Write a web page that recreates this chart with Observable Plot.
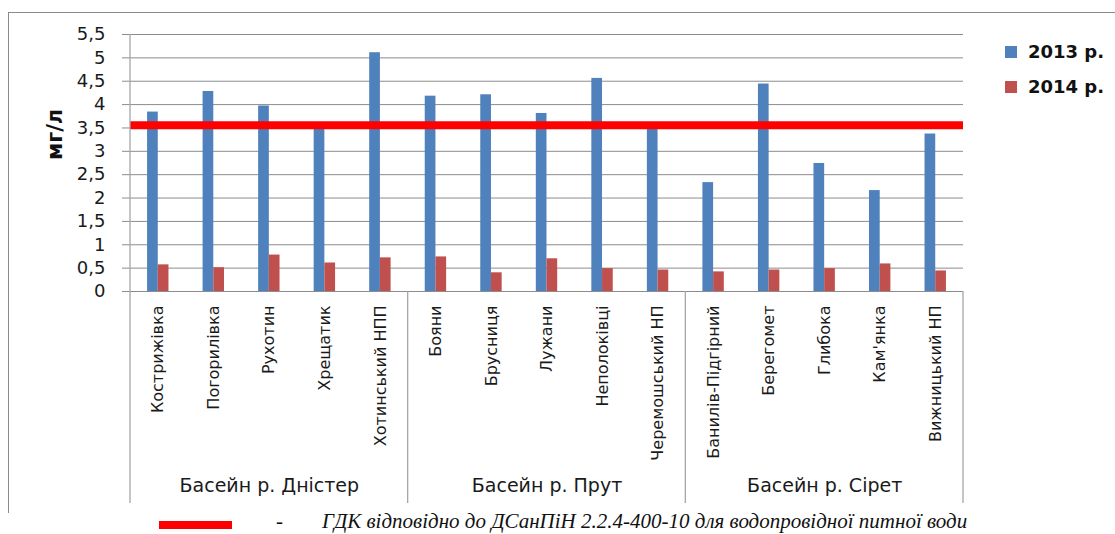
<!DOCTYPE html>
<html>
<head>
<meta charset="utf-8">
<script src="https://cdn.jsdelivr.net/npm/d3@7"></script>
<script src="https://cdn.jsdelivr.net/npm/@observablehq/plot@0.6"></script>
<style>
  body { margin: 0; background: #fff; }
  #wrap { position: relative; width: 1115px; height: 534px; overflow: hidden; font-family: "DejaVu Sans", sans-serif; background: #fff; }
  #chart { position: absolute; left: 0; top: 0; }
  #frame { position: absolute; left: 8px; top: 12px; width: 1200px; height: 500px; border-left: 1.5px solid #8a8a8a; border-top: 1.5px solid #8a8a8a; pointer-events: none; }
  .leg { position: absolute; left: 1005px; display: flex; align-items: center; font-weight: bold; font-size: 18px; color: #111; white-space: nowrap; }
  .leg .sw { width: 12px; height: 12px; margin-right: 11px; }
  #capbar { position: absolute; left: 159px; top: 521px; width: 73px; height: 8px; background: #FF0000; }
  .cap { position: absolute; top: 510px; font-family: "Liberation Serif", serif; font-style: italic; font-size: 21px; color: #111; white-space: nowrap; line-height: 22px; }
</style>
</head>
<body>
<div id="wrap">
  <div id="chart"></div>
  <div id="frame"></div>
  <div id="legend"></div>
  <div id="capbar"></div>
  <div class="cap" id="capdash" style="left:276px;font-style:normal;">-</div>
  <div class="cap" id="captext" style="left:322px;"></div>
</div>
<script>
const stations = ["Кострижівка", "Погорилівка", "Рухотин", "Хрещатик", "Хотинський НПП",
  "Бояни", "Брусниця", "Лужани", "Неполоківці", "Черемошський НП",
  "Банилів-Підгірний", "Берегомет", "Глибока", "Кам'янка", "Вижницький НП"];
const groups = ["Басейн р. Дністер", "Басейн р. Прут", "Басейн р. Сірет"];
const stationGroup = [0, 0, 0, 0, 0, 1, 1, 1, 1, 1, 2, 2, 2, 2, 2];
const values2013 = [3.84, 4.28, 3.97, 3.50, 5.11, 4.18, 4.21, 3.81, 4.56, 3.50, 2.33, 4.44, 2.74, 2.16, 3.37];
const values2014 = [0.57, 0.51, 0.78, 0.61, 0.72, 0.74, 0.40, 0.70, 0.49, 0.46, 0.42, 0.46, 0.49, 0.59, 0.44];
const years = ["2013 р.", "2014 р."];
const colors = ["#4F81BD", "#C0504D"];
const limitValue = 3.56;
const yTicks = [0, 0.5, 1, 1.5, 2, 2.5, 3, 3.5, 4, 4.5, 5, 5.5];
const yLabel = "мг/л";
const limitLabel = "ГДК відповідно до ДСанПіН 2.2.4-400-10 для водопровідної питної води";

const rows2013 = stations.map((s, i) => ({station: s, value: values2013[i]}));
const rows2014 = stations.map((s, i) => ({station: s, value: values2014[i]}));
const groupRows = groups.map((g, gi) => {
  const members = stations.filter((s, i) => stationGroup[i] === gi);
  return {group: g, mid: members[Math.floor(members.length / 2)], first: members[0], last: members[members.length - 1]};
});

const W = 1115, H = 510, mL = 130, mR = 152, mT = 34, mB = 219;
const bw = (W - mL - mR) / stations.length;
const barW = 10.7;
const outer = (bw - 2 * barW) / 2;

const plot = Plot.plot({
  width: W, height: H,
  marginLeft: mL, marginRight: mR, marginTop: mT, marginBottom: mB,
  style: {fontFamily: "DejaVu Sans", fontSize: "18px", background: "transparent", color: "#1a1a1a"},
  x: {domain: stations, padding: 0, round: false, tickSize: 0, tickPadding: 14, tickRotate: -90, label: null},
  y: {domain: [0, 5.5], ticks: yTicks, tickFormat: d => String(d).replace(".", ","), tickSize: 8, tickPadding: 17, label: null},
  marks: [
    Plot.ruleY(yTicks, {stroke: "#8c8c8c", strokeWidth: 1}),
    Plot.barY(rows2013, {x: "station", y: "value", fill: colors[0], insetLeft: outer, insetRight: outer + barW}),
    Plot.barY(rows2014, {x: "station", y: "value", fill: colors[1], insetLeft: outer + barW, insetRight: outer}),
    Plot.ruleY([limitValue], {stroke: "#FF0000", strokeWidth: 8}),
    Plot.text(groupRows, {x: "mid", text: "group", frameAnchor: "bottom", dy: 200, fontSize: 19, fill: "#1a1a1a"}),
    Plot.text([yLabel], {frameAnchor: "left", text: d => d, rotate: -90, dx: -75, dy: -3, fontWeight: "bold", fontSize: 21, fill: "#111"})
  ]
});

const svg = d3.select(plot);
svg.selectAll('g[aria-label="x-axis tick label"] text, g[aria-label="x-axis"] text').style("font-size", "16px");
svg.selectAll('g[aria-label="y-axis tick"] path, g[aria-label="y-axis"] line').attr("stroke", "#8c8c8c");

const xs = plot.scale("x"), ys = plot.scale("y");
const y0 = ys.apply(0), yTop = ys.apply(5.5);
const sepBottom = y0 + 212;
const lines = svg.append("g").attr("stroke", "#a6a6a6").attr("stroke-width", 1.3);
const xLeft = xs.apply(stations[0]);
lines.append("line").attr("x1", xLeft).attr("x2", xLeft).attr("y1", yTop).attr("y2", y0);
const bounds = groupRows.map(r => xs.apply(r.first));
bounds.push(xs.apply(groupRows[groupRows.length - 1].last) + xs.bandwidth);
bounds.forEach(b => lines.append("line").attr("x1", b).attr("x2", b).attr("y1", y0).attr("y2", sepBottom));

document.getElementById("chart").appendChild(plot);

const legend = document.getElementById("legend");
years.forEach((y, i) => {
  const item = document.createElement("div");
  item.className = "leg";
  item.style.top = (41 + i * 35) + "px";
  item.innerHTML = `<div class="sw" style="background:${colors[i]}"></div><span>${y}</span>`;
  legend.appendChild(item);
});
document.getElementById("captext").textContent = limitLabel;
</script>
</body>
</html>
